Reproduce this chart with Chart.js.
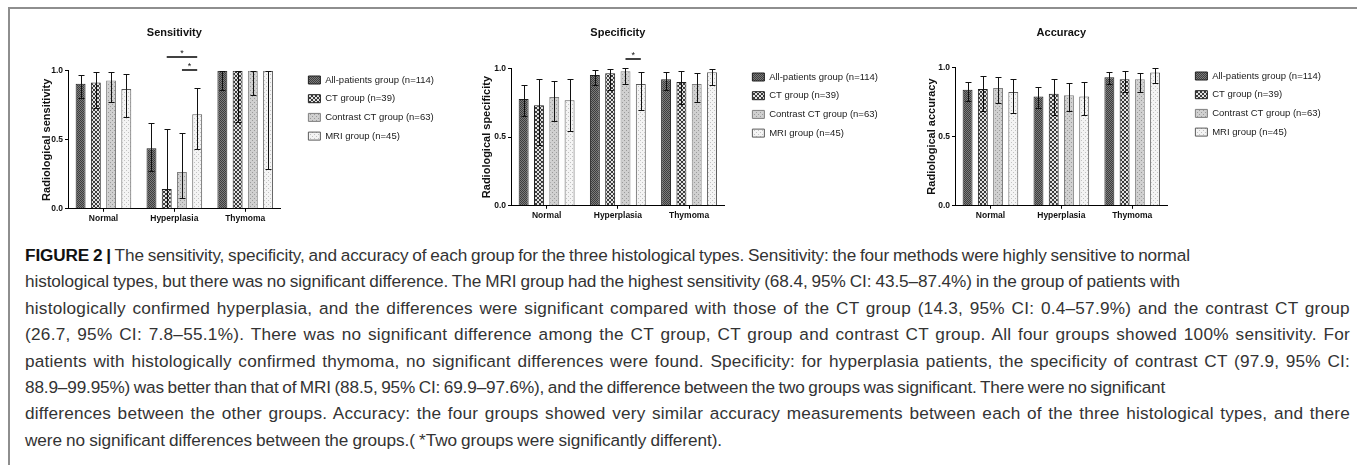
<!DOCTYPE html>
<html>
<head>
<meta charset="utf-8">
<script src="https://cdn.jsdelivr.net/npm/chart.js@4.4.1/dist/chart.umd.min.js"></script>
<style>
  html, body { margin: 0; padding: 0; background: #fff; }
  body { width: 1357px; height: 465px; position: relative; overflow: hidden; font-family: "Liberation Sans", Arial, Helvetica, sans-serif; }
  #frame { position: absolute; left: 8px; top: 7px; right: -4px; bottom: -4px; border-top: 2px solid #8e8e8e; border-left: 2px solid #8e8e8e; }
  canvas { position: absolute; top: 10px; }
  #caption { position: absolute; left: 25px; top: 242px; font-size: 17.2px; line-height: 26.4px; color: #333; white-space: nowrap; }
  #caption span { display: block; width: max-content; }
  #caption b { color: #111; }
</style>
</head>
<body>
<div id="frame"></div>
<canvas id="sensChart"></canvas>
<canvas id="specChart"></canvas>
<canvas id="accChart"></canvas>
<div id="caption">
<span data-end="1190"><b>FIGURE 2 |</b> The sensitivity, specificity, and accuracy of each group for the three histological types. Sensitivity: the four methods were highly sensitive to normal</span>
<span data-end="1180">histological types, but there was no significant difference. The MRI group had the highest sensitivity (68.4, 95% CI: 43.5–87.4%) in the group of patients with</span>
<span data-end="1350">histologically confirmed hyperplasia, and the differences were significant compared with those of the CT group (14.3, 95% CI: 0.4–57.9%) and the contrast CT group</span>
<span data-end="1350">(26.7, 95% CI: 7.8–55.1%). There was no significant difference among the CT group, CT group and contrast CT group. All four groups showed 100% sensitivity. For</span>
<span data-end="1350">patients with histologically confirmed thymoma, no significant differences were found. Specificity: for hyperplasia patients, the specificity of contrast CT (97.9, 95% CI:</span>
<span data-end="1165">88.9–99.95%) was better than that of MRI (88.5, 95% CI: 69.9–97.6%), and the difference between the two groups was significant. There were no significant</span>
<span data-end="1350">differences between the other groups. Accuracy: the four groups showed very similar accuracy measurements between each of the three histological types, and there</span>
<span data-end="722">were no significant differences between the groups.( *Two groups were significantly different).</span>
</div>
<script>
const categories = ["Normal", "Hyperplasia", "Thymoma"];
const groupLabels = ["All-patients group (n=114)", "CT group (n=39)", "Contrast CT group (n=63)", "MRI group (n=45)"];
const yTicks = [0, 0.5, 1.0];

// Sensitivity: value / lower CI / upper CI, one entry per category
const sensAll = [0.905, 0.438, 1.0];
const sensAllLo = [0.803, 0.271, 0.862];
const sensAllHi = [0.969, 0.624, 1.0];
const sensCT = [0.914, 0.143, 1.0];
const sensCTLo = [0.731, 0.004, 0.631];
const sensCTHi = [0.988, 0.579, 1.0];
const sensContrast = [0.929, 0.267, 1.0];
const sensContrastLo = [0.771, 0.078, 0.826];
const sensContrastHi = [0.993, 0.551, 1.0];
const sensMRI = [0.867, 0.684, 1.0];
const sensMRILo = [0.664, 0.435, 0.29];
const sensMRIHi = [0.974, 0.874, 1.0];

// Specificity
const specAll = [0.777, 0.952, 0.921];
const specAllLo = [0.653, 0.880, 0.844];
const specAllHi = [0.880, 0.988, 0.971];
const specCT = [0.732, 0.964, 0.900];
const specCTLo = [0.445, 0.839, 0.744];
const specCTHi = [0.923, 0.995, 0.983];
const specContrast = [0.792, 0.979, 0.885];
const specContrastLo = [0.617, 0.889, 0.756];
const specContrastHi = [0.911, 0.9995, 0.964];
const specMRI = [0.768, 0.885, 0.971];
const specMRILo = [0.545, 0.699, 0.880];
const specMRIHi = [0.923, 0.976, 0.995];

// Accuracy
const accAll = [0.838, 0.790, 0.929];
const accAllLo = [0.754, 0.707, 0.881];
const accAllHi = [0.897, 0.855, 0.964];
const accCT = [0.843, 0.809, 0.914];
const accCTLo = [0.688, 0.655, 0.819];
const accCTHi = [0.938, 0.914, 0.976];
const accContrast = [0.850, 0.798, 0.914];
const accContrastLo = [0.743, 0.683, 0.819];
const accContrastHi = [0.929, 0.886, 0.962];
const accMRI = [0.821, 0.790, 0.962];
const accMRILo = [0.671, 0.652, 0.886];
const accMRIHi = [0.914, 0.893, 0.993];

// significance brackets: [category index, group A, group B, height]
const sensSig = [[1, 1, 3, 1.098], [1, 2, 3, 1.005]];
const specSig = [[1, 2, 3, 1.067]];
const accSig = [];

const FONT = '"Liberation Sans", Arial, Helvetica, sans-serif';
Chart.defaults.font.family = FONT;
Chart.defaults.color = "#111";

// caption lines: stretch/squeeze each one to where it ends in the figure
document.querySelectorAll("#caption span").forEach(line => {
  const natural = line.getBoundingClientRect().width;
  const diff = (+line.dataset.end - 25) - natural;
  const text = line.textContent;
  const spaces = (text.match(/ /g) || []).length;
  line.style.letterSpacing = (diff * 0.5 / text.length).toFixed(3) + "px";
  if (spaces) line.style.wordSpacing = (diff * 0.5 / spaces).toFixed(3) + "px";
});

// bar fills (grayscale textures like the original)
function makePattern(bg, fg, cells, size) {
  const c = document.createElement("canvas");
  c.width = c.height = size;
  const g = c.getContext("2d");
  g.fillStyle = bg;
  g.fillRect(0, 0, size, size);
  g.fillStyle = fg;
  cells.forEach(([x, y]) => g.fillRect(x, y, 1, 1));
  return g.createPattern(c, "repeat");
}
const fills = [
  makePattern("#7c7c7c", "#3e3e3e", [[0, 0], [1, 1]], 2),
  makePattern("#e2e2e2", "#3a3a3a", [[0, 0], [1, 1], [2, 2], [3, 3], [0, 3], [1, 2], [2, 1], [3, 0]], 4),
  makePattern("#d0d0d0", "#9a9a9a", [[0, 0], [2, 2]], 4),
  makePattern("#f4f4f4", "#c2c2c2", [[0, 0], [2, 2]], 4)
];
const borders = ["#1e1e1e", "#1e1e1e", "#808080", "#5a5a5a"];

const errorBars = {
  id: "errorBars",
  afterDatasetsDraw(chart) {
    const { ctx } = chart;
    const y = chart.scales.y;
    ctx.save();
    ctx.strokeStyle = "#111";
    ctx.lineWidth = 1;
    chart.data.datasets.forEach((ds, i) => {
      chart.getDatasetMeta(i).data.forEach((bar, j) => {
        const x = Math.round(bar.x) + 0.5;
        const top = Math.round(y.getPixelForValue(ds.errHigh[j])) + 0.5;
        const bot = Math.round(y.getPixelForValue(ds.errLow[j])) + 0.5;
        ctx.beginPath();
        ctx.moveTo(x, top); ctx.lineTo(x, bot);
        ctx.moveTo(x - 3, top); ctx.lineTo(x + 3, top);
        ctx.moveTo(x - 3, bot); ctx.lineTo(x + 3, bot);
        ctx.stroke();
      });
    });
    ctx.restore();
  }
};

const sigMarks = {
  id: "sigMarks",
  afterDraw(chart, args, opts) {
    const { ctx } = chart;
    const y = chart.scales.y;
    (opts.pairs || []).forEach(([cat, a, b, level]) => {
      const x1 = chart.getDatasetMeta(a).data[cat].x;
      const x2 = chart.getDatasetMeta(b).data[cat].x;
      const py = Math.round(y.getPixelForValue(level));
      ctx.save();
      ctx.strokeStyle = "#111";
      ctx.lineWidth = 1.6;
      ctx.beginPath();
      ctx.moveTo(x1, py); ctx.lineTo(x2, py);
      ctx.stroke();
      ctx.fillStyle = "#111";
      ctx.font = "9px " + FONT;
      ctx.textAlign = "center";
      ctx.fillText("*", (x1 + x2) / 2, py - 1);
      ctx.restore();
    });
  }
};

// legend metrics
const legendFont = 9.5, legendPad = 9.2, boxW = 12, boxH = 8, gapW = 18.5;
const mctx = document.createElement("canvas").getContext("2d");
mctx.font = legendFont + "px " + FONT;
const maxText = Math.max(...groupLabels.map(t => mctx.measureText(t).width));
const legendW = legendPad + boxW + legendFont / 2 + maxText + 10;

function makeChart(id, box, title, yTitle, values, lows, highs, pairs) {
  const canvas = document.getElementById(id);
  canvas.style.left = box.left + "px";
  canvas.width = Math.round(box.plotRight - box.left + gapW + legendW);
  canvas.height = Math.round(box.plotBottom - 10 + 15.2);

  const datasets = groupLabels.map((label, i) => ({
    label,
    data: values[i],
    errLow: lows[i],
    errHigh: highs[i],
    backgroundColor: fills[i],
    borderColor: borders[i],
    borderWidth: 1,
    categoryPercentage: 0.86,
    barPercentage: 0.65
  }));

  return new Chart(canvas, {
    type: "bar",
    data: { labels: categories, datasets },
    options: {
      responsive: false,
      animation: false,
      devicePixelRatio: 1,
      layout: { padding: 0 },
      plugins: {
        title: {
          display: true, text: title, fullSize: false, color: "#111",
          font: { size: 11, weight: "bold" },
          padding: { top: 16.4, bottom: box.plotTop - 39.6 }
        },
        legend: {
          position: "right", align: "start",
          maxWidth: 400,
          labels: { boxWidth: boxW, boxHeight: boxH, padding: legendPad, color: "#1a1a1a", font: { size: legendFont } },
          title: { display: true, text: " ", font: { size: 10 }, padding: { top: box.row1 - legendFont / 2 - 10 - legendPad - 12, bottom: 0 } }
        },
        tooltip: { enabled: false },
        sigMarks: { pairs }
      },
      scales: {
        x: {
          grid: { offset: false, drawOnChartArea: false, tickLength: 3, color: "#000" },
          border: { color: "#000" },
          ticks: { padding: 2, color: "#111", font: { size: 8.5, weight: "bold" } }
        },
        y: {
          min: 0, max: 1,
          afterBuildTicks: s => { s.ticks = yTicks.map(v => ({ value: v })); },
          afterFit: s => { s.width = box.plotLeft - box.left; },
          grid: { drawOnChartArea: false, tickLength: 3, color: "#000" },
          border: { color: "#000" },
          ticks: { padding: 2, color: "#111", font: { size: 8.5, weight: "bold" }, callback: v => v.toFixed(1) },
          title: {
            display: true, text: yTitle, color: "#111",
            font: { size: 11, weight: "bold" },
            padding: { top: box.yTitleX - 6.6 - box.left, bottom: 0 }
          }
        },
        gap: {
          position: "right",
          grid: { display: false }, border: { display: false }, ticks: { display: false },
          afterFit: s => { s.width = gapW; }
        }
      }
    },
    plugins: [errorBars, sigMarks]
  });
}

makeChart("sensChart",
  { left: 22, plotLeft: 68, plotRight: 280.5, plotTop: 70.7, plotBottom: 210.7, row1: 80, yTitleX: 47 },
  "Sensitivity", "Radiological sensitivity",
  [sensAll, sensCT, sensContrast, sensMRI],
  [sensAllLo, sensCTLo, sensContrastLo, sensMRILo],
  [sensAllHi, sensCTHi, sensContrastHi, sensMRIHi],
  sensSig);

makeChart("specChart",
  { left: 470, plotLeft: 511, plotRight: 725, plotTop: 68.3, plotBottom: 207.7, row1: 77, yTitleX: 486.7 },
  "Specificity", "Radiological specificity",
  [specAll, specCT, specContrast, specMRI],
  [specAllLo, specCTLo, specContrastLo, specMRILo],
  [specAllHi, specCTHi, specContrastHi, specMRIHi],
  specSig);

makeChart("accChart",
  { left: 915, plotLeft: 955, plotRight: 1168, plotTop: 67.3, plotBottom: 207.3, row1: 76, yTitleX: 931.7 },
  "Accuracy", "Radiological accuracy",
  [accAll, accCT, accContrast, accMRI],
  [accAllLo, accCTLo, accContrastLo, accMRILo],
  [accAllHi, accCTHi, accContrastHi, accMRIHi],
  accSig);
</script>
</body>
</html>
